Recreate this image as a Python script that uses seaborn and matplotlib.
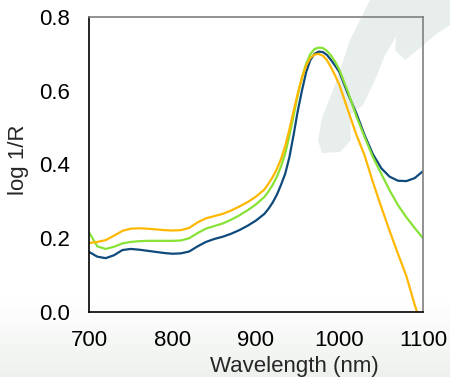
import numpy as np
import pandas as pd
import matplotlib
matplotlib.use("Agg")
import matplotlib.pyplot as plt
from matplotlib.patches import Polygon
import seaborn as sns

wavelength = [700, 710, 720, 730, 740, 750, 760, 770, 780, 790, 800, 810, 820, 830, 840, 850,
              860, 870, 880, 890, 900, 910, 915, 920, 925, 930, 935, 940, 945, 950, 955, 960,
              965, 970, 975, 980, 985, 990, 995, 1000, 1010, 1020, 1030, 1040, 1050, 1060,
              1070, 1080, 1090, 1100]

series_blue = [0.163, 0.150, 0.146, 0.154, 0.168, 0.171, 0.169, 0.166, 0.163, 0.160, 0.158,
               0.159, 0.164, 0.178, 0.190, 0.198, 0.204, 0.212, 0.222, 0.234, 0.248, 0.266,
               0.280, 0.297, 0.318, 0.345, 0.375, 0.420, 0.480, 0.545, 0.600, 0.650, 0.683,
               0.700, 0.706, 0.705, 0.697, 0.683, 0.667, 0.650, 0.592, 0.540, 0.480, 0.428,
               0.390, 0.367, 0.356, 0.355, 0.363, 0.382]

series_green = [0.216, 0.178, 0.171, 0.177, 0.186, 0.190, 0.192, 0.193, 0.193, 0.193, 0.193,
                0.194, 0.200, 0.214, 0.226, 0.233, 0.240, 0.250, 0.262, 0.276, 0.292, 0.312,
                0.327, 0.345, 0.367, 0.395, 0.430, 0.478, 0.532, 0.588, 0.636, 0.673, 0.699,
                0.713, 0.717, 0.716, 0.708, 0.695, 0.678, 0.656, 0.598, 0.532, 0.475, 0.420,
                0.375, 0.330, 0.290, 0.257, 0.228, 0.200]

series_orange = [0.187, 0.190, 0.195, 0.207, 0.220, 0.226, 0.227, 0.226, 0.224, 0.222, 0.221,
                 0.222, 0.228, 0.243, 0.254, 0.260, 0.266, 0.275, 0.286, 0.298, 0.313, 0.332,
                 0.348, 0.366, 0.388, 0.415, 0.450, 0.495, 0.545, 0.592, 0.635, 0.668, 0.689,
                 0.698, 0.700, 0.695, 0.683, 0.663, 0.640, 0.615, 0.548, 0.482, 0.425, 0.352,
                 0.285, 0.220, 0.158, 0.098, 0.020, -0.050]

series_names = ["A", "B", "C"]
colors = {"A": "#0E4A7B", "B": "#88E236", "C": "#FFB800"}

x_ticks = [700, 800, 900, 1000, 1100]
y_ticks = [0.0, 0.2, 0.4, 0.6, 0.8]

df = pd.DataFrame({
    "Wavelength": wavelength * 3,
    "value": series_blue + series_green + series_orange,
    "series": [series_names[0]] * len(wavelength) + [series_names[1]] * len(wavelength)
              + [series_names[2]] * len(wavelength),
})

sns.set_style("white")
plt.rcParams["font.family"] = ["Liberation Sans", "DejaVu Sans"]

W, H = 450, 377
fig = plt.figure(figsize=(W / 100, H / 100), dpi=100)

# background: gradient + faint watermark shape
bg = fig.add_axes([0, 0, 1, 1], zorder=-10)
rows = np.arange(H)
t = np.clip((rows - 300) / 77.0, 0, 1)[:, None]
base = np.array([1.0, 1.0, 1.0])
low = np.array([0.93, 0.945, 0.93])
grad = (base * (1 - t) + low * t)[:, None, :].repeat(2, axis=1)
bg.imshow(grad, extent=[0, W, H, 0], aspect="auto")
band = [(370, 0), (410, 0), (400, 30), (385, 55), (375, 80), (363, 105), (350, 115),
        (351, 140), (340, 152), (322, 153), (318, 140), (322, 118), (335, 85), (350, 40)]
upper = [(400, 0), (450, 0), (450, 25), (435, 35), (420, 48), (405, 60), (395, 50)]
for poly in (band, upper):
    bg.add_patch(Polygon(poly, closed=True, facecolor="#E8EEEC", edgecolor="none"))
bg.set_xlim(0, W)
bg.set_ylim(H, 0)
bg.axis("off")

ax = fig.add_axes([89 / W, (H - 312) / H, 334 / W, 295 / H])
ax.set_facecolor("none")
sns.lineplot(data=df, x="Wavelength", y="value", hue="series", palette=colors,
             linewidth=1.6, ax=ax, legend=False)

ax.set_xlim(700, 1100)
ax.set_ylim(0, 0.8)
ax.set_xticks(x_ticks)
ax.set_yticks(y_ticks)
ax.set_yticklabels([f"{v:.1f}" for v in y_ticks])
ax.tick_params(axis="both", length=0, labelsize=16, colors="black")
ax.tick_params(axis="y", pad=14)
ax.tick_params(axis="x", pad=13)

ax.set_xlabel("Wavelength (nm)", fontsize=16)
ax.set_ylabel("log 1/R", fontsize=16)
ax.xaxis.set_label_coords(0.614, -0.148)
ax.yaxis.set_label_coords(-0.18, 0.515)

for side in ["left", "bottom"]:
    ax.spines[side].set_color("black")
    ax.spines[side].set_linewidth(1.2)
for side in ["top", "right"]:
    ax.spines[side].set_color("#7F7F7F")
    ax.spines[side].set_linewidth(1.2)
    ax.spines[side].set_visible(True)

fig.savefig("out.png", dpi=100)
